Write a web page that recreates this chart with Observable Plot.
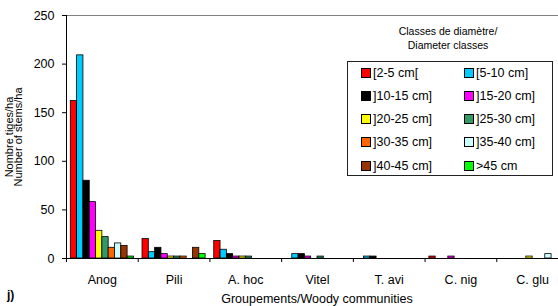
<!DOCTYPE html>
<html><head><meta charset="utf-8">
<script src="https://cdn.jsdelivr.net/npm/d3@7"></script>
<script src="https://cdn.jsdelivr.net/npm/@observablehq/plot@0.6"></script>
<style>
html,body{margin:0;padding:0;overflow:hidden;background:#fff;width:558px;height:306px}
#wrap{position:relative;width:558px;height:306px;font-family:"Liberation Sans",Arial,sans-serif;color:#000;overflow:hidden}
#wrap svg{max-width:none !important;position:absolute;left:0;top:0}
.ov{position:absolute;white-space:nowrap}
#legend{position:absolute;left:347px;top:61px;width:204px;height:113px;border:1px solid #222;background:#fff}
.sw{position:absolute;width:8px;height:8px;border:1px solid #000}
.lt{position:absolute;font-size:12.5px;line-height:14px;white-space:nowrap}
</style></head><body><div id="wrap"></div>
<script>
const communities = ["Anog", "Pili", "A. hoc", "Vitel", "T. avi", "C. nig", "C. glu"];
const classes = ["[2-5 cm[", "[5-10 cm]", "]10-15 cm]", "]15-20 cm]", "]20-25 cm]", "]25-30 cm]", "]30-35 cm]", "]35-40 cm]", "]40-45 cm]", ">45 cm"];
const colors = ["#ff0000", "#00ccff", "#000000", "#ff00ff", "#ffff00", "#339966", "#ff6600", "#ccffff", "#993300", "#00ff00"];
// stems/ha per diameter class, one array per community
const anog  = [162, 209, 80, 58, 28.5, 22, 11, 15.5, 13, 2];
const pili  = [20, 6.5, 11, 4.5, 2, 2, 2, 0, 11, 4.5];
const ahoc  = [18, 9, 4.5, 2, 2, 2, 0, 0, 0, 0];
const vitel = [0, 4.5, 4.5, 2, 0, 2, 0, 0, 0, 0];
const tavi  = [0, 2, 2, 0, 0, 0, 0, 0, 0, 0];
const cnig  = [2, 0, 0, 2, 0, 0, 0, 0, 0, 0];
const cglu  = [0, 0, 0, 0, 2, 0, 0, 4.5, 0, 0];
const yTicks = [0, 50, 100, 150, 200, 250];

const series = [anog, pili, ahoc, vitel, tavi, cnig, cglu];
const pad = 0.06, bw = 0.088;
const data = [];
series.forEach((vals, i) => vals.forEach((v, j) => {
  if (v > 0) data.push({x1: i + pad + j * bw, x2: i + pad + (j + 1) * bw, v, color: colors[j]});
}));

const plot = Plot.plot({
  width: 568, height: 306,
  marginLeft: 66, marginRight: 0, marginTop: 15, marginBottom: 48,
  style: {fontFamily: "Liberation Sans, Arial, sans-serif", fontSize: "12.5px", color: "#000", background: "transparent", overflow: "visible"},
  x: {domain: [0, 7], ticks: d3.range(0, 8), tickFormat: () => "", tickSize: 4, label: null},
  y: {domain: [0, 250], ticks: yTicks, tickSize: 4, tickPadding: 8, label: null},
  color: {type: "identity"},
  marks: [
    Plot.ruleY([250], {stroke: "#808080"}),
    Plot.rectY(data, {x1: "x1", x2: "x2", y: "v", fill: "color", stroke: "#000", strokeWidth: 0.8}),
    Plot.text(communities, {x: (d, i) => i + 0.5, y: () => 0, text: d => d, dy: 21, fontSize: 12.5}),
    Plot.ruleX([0], {stroke: "#000"}),
    Plot.ruleY([0], {stroke: "#000"})
  ]
});
const wrap = document.getElementById("wrap");
wrap.appendChild(plot);

function ov(html, css) {
  const d = document.createElement("div");
  d.className = "ov"; d.innerHTML = html; d.style.cssText += css;
  wrap.appendChild(d); return d;
}
// y-axis title (two lines, rotated)
ov("Nombre tiges/ha<br>Number of stems/ha",
  "left:-86.5px;top:128px;width:200px;height:18px;text-align:center;font-size:11px;line-height:9px;transform:rotate(-90deg);transform-origin:100px 9px;");
// x-axis title
ov("Groupements/Woody communities", "left:117px;top:292px;width:400px;text-align:center;font-size:12.5px;line-height:14px;");
// panel tag
ov("j)", "left:7px;top:288px;font-size:12px;font-weight:bold;line-height:14px;");
// legend title
ov("Classes de diamètre/<br>Diameter classes", "left:378px;top:24px;width:140px;text-align:center;font-size:10.5px;line-height:14px;");

// legend box
const lg = document.createElement("div");
lg.id = "legend"; wrap.appendChild(lg);
classes.forEach((c, k) => {
  const col = k % 2, row = Math.floor(k / 2);
  const cy = 72.5 + row * 23.3 - 62;
  const sx = col === 0 ? 13 : 116;
  const s = document.createElement("div");
  s.className = "sw"; s.style.left = sx + "px"; s.style.top = (cy - 5) + "px"; s.style.background = colors[k];
  lg.appendChild(s);
  const t = document.createElement("div");
  t.className = "lt"; t.textContent = c; t.style.left = (sx + 12) + "px"; t.style.top = (cy - 7) + "px";
  lg.appendChild(t);
});
</script></body></html>
